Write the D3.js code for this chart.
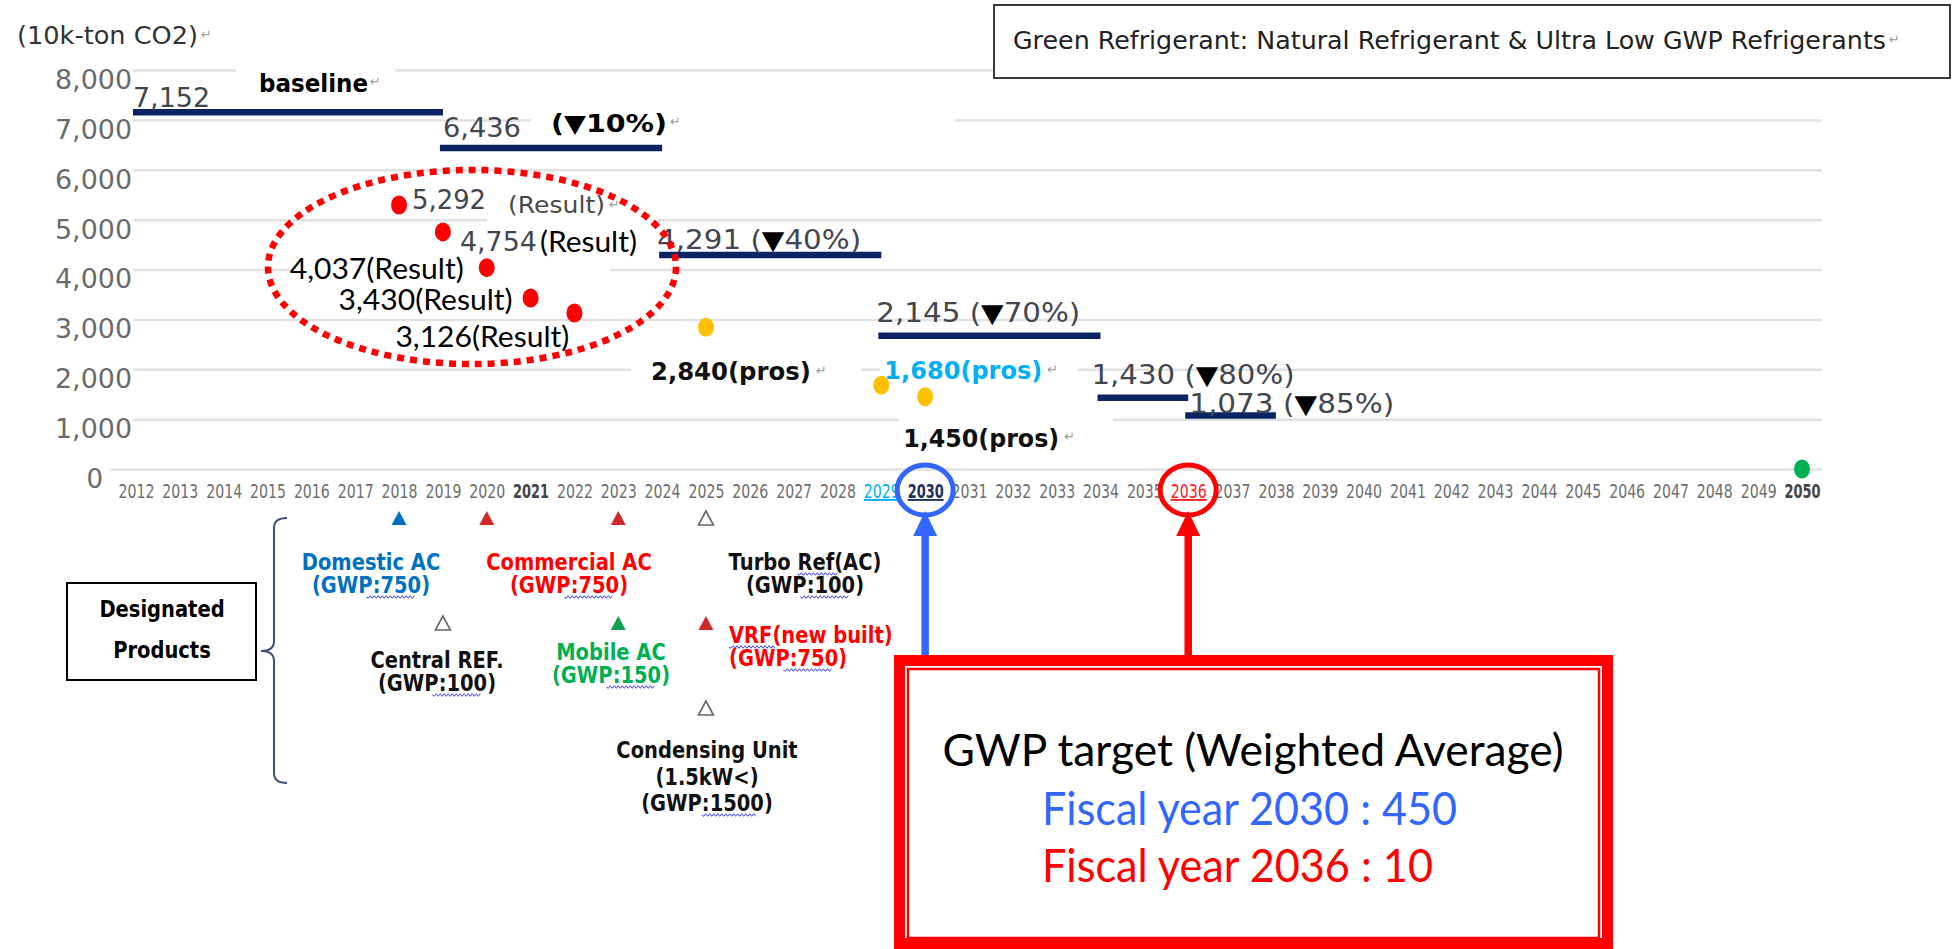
<!DOCTYPE html>
<html>
<head>
<meta charset="utf-8">
<script src="https://cdn.jsdelivr.net/npm/d3@7/dist/d3.min.js"></script>
<style>
body{margin:0;background:#fff;}
svg{display:block;}
.axis .domain{display:none;}
</style>
</head>
<body>
<svg id="chart" width="1954" height="949"></svg>
<script>
// ---- data ----
var years = [2012,2013,2014,2015,2016,2017,2018,2019,2020,2021,2022,2023,2024,2025,2026,2027,2028,2029,2030,
             2031,2032,2033,2034,2035,2036,2037,2038,2039,2040,2041,2042,2043,2044,2045,2046,2047,2048,2049,2050]
var yTicks = [0,1000,2000,3000,4000,5000,6000,7000,8000]

// reduction target steps (10k-ton CO2)
var targetStart = [2012,2019,2024,2029,2034,2036]
var targetEnd   = [2019,2024,2029,2034,2036,2038]
var targetLevel = [7152,6436,4291,2670,1430,1073]   // the 2,145 step sits near 2,670 in the source picture
var targetText  = ["7,152","6,436","4,291 (▼40%)","2,145 (▼70%)","1,430 (▼80%)","1,073 (▼85%)"]

var resultYears  = [2018,2019,2020,2021,2022]
var resultValues = [5292,4754,4037,3430,3126]
var prosYears  = [2025,2029,2030]
var prosValues = [2840,1680,1450]
var goalYears  = [2050]
var goalValues = [0]

var productNames = ["Domestic AC","Commercial AC","Turbo Ref(AC)","Central REF.","Mobile AC","VRF(new built)","Condensing Unit"]
var productGWP   = [750,750,100,100,150,750,1500]
var productNote  = ["","","","","","","(1.5kW<)"]
var markerYears   = [2018,2020,2023,2025,2019,2023,2025,2025]
var markerProduct = [0,1,1,2,3,4,5,6]

var gwpYears  = [2030,2036]
var gwpValues = [450,10]

// ---- layout ----
var svg = d3.select("#chart")
var fmt = d3.format(",")

var x = d3.scaleLinear().domain([2012,2050]).range([136,1802])
var y = d3.scaleLinear().domain([0,8000]).range([469,70])

var addText = function(parent, px, py, str, o)
{
    var t = parent.append("text")
        .attr("x", px).attr("y", py)
        .attr("dy", "0.36em")
        .attr("text-anchor", o.anchor || "start")
        .style("font-family", o.font || "'DejaVu Sans'")
        .style("font-size", o.size + "px")
        .style("font-weight", o.weight || "normal")
        .attr("fill", o.fill || "#000")
    if (o.tri) {
        // black triangle inside grey label
        var parts = str.split("▼")
        t.append("tspan").text(parts[0])
        if (parts.length > 1) {
            t.append("tspan").attr("fill", "#000").text("▼")
            t.append("tspan").text(parts[1])
        }
    } else {
        t.text(str)
    }
    if (o.len) t.attr("textLength", o.len).attr("lengthAdjust", "spacingAndGlyphs")
    return t
}
// keep the width a text has at its size but draw it taller
var squeeze = function(t, size)
{
    var w = t.node().getComputedTextLength()
    t.style("font-size", size + "px").attr("textLength", w).attr("lengthAdjust", "spacingAndGlyphs")
    return w
}
var retMark = function(px, py)
{
    svg.append("text").attr("x", px).attr("y", py).attr("dy", "0.36em")
        .style("font-family", "'DejaVu Sans'").style("font-size", "13px")
        .attr("fill", "#9a9a9a").text("↵")
}
// spell-check squiggle
var squiggle = function(x0, x1, py)
{
    var d = "M" + x0 + "," + py
    for (var xx = x0, k = 0; xx < x1; xx += 2, k++) {
        d += " L" + (xx + 2) + "," + (py + (k % 2 ? -1.3 : 1.3))
    }
    svg.append("path").attr("d", d).attr("fill", "none")
        .attr("stroke", "#3d3df5").attr("stroke-width", 1)
}

// ---- y axis + grid ----
var yAxis = d3.axisLeft(y).tickValues(yTicks).tickFormat(fmt)
    .tickSize(-(1822 - 133)).tickPadding(1)
var gy = svg.append("g").attr("class", "axis").attr("transform", "translate(133,0)").call(yAxis)
gy.selectAll(".tick line").attr("stroke", "#e1e1e1").attr("stroke-width", 2.5)
gy.selectAll(".tick line").filter(function(d){ return d === 0 }).attr("x1", -22)
gy.selectAll(".tick text")
    .attr("dy", "0.36em").attr("y", 9)
    .style("font-family", "'DejaVu Sans'").style("font-size", "26px")
    .attr("fill", "#6a6a6a")
    .attr("textLength", function(d){ return d === 0 ? null : 77 })
    .attr("lengthAdjust", "spacingAndGlyphs")
gy.selectAll(".tick text").filter(function(d){ return d === 0 }).attr("x", -30)

// ---- x axis ----
var xAxis = d3.axisBottom(x).tickValues(years).tickFormat(d3.format("d")).tickSize(0)
var gx = svg.append("g").attr("class", "axis").attr("transform", "translate(0,469)").call(xAxis)
gx.selectAll(".tick text")
    .attr("y", 22).attr("dy", "0.36em")
    .style("font-family", "'DejaVu Sans'").style("font-size", "19px")
    .attr("fill", "#6e6e6e")
gx.selectAll(".tick text").filter(function(d){ return d === 2021 || d === 2050 })
    .style("font-weight", "bold").attr("fill", "#444")
gx.selectAll(".tick text").filter(function(d){ return d === 2029 })
    .attr("fill", "#00b0f0").style("text-decoration", "underline")
gx.selectAll(".tick text").filter(function(d){ return d === 2030 })
    .style("font-weight", "bold").attr("fill", "#1f2f60").style("text-decoration", "underline")
gx.selectAll(".tick text").filter(function(d){ return d === 2036 })
    .attr("fill", "#ff2020").style("text-decoration", "underline")
// the year labels are narrow and tall
gx.selectAll(".tick text").each(function(){
    var w = this.getComputedTextLength()
    d3.select(this).attr("transform", "scale(" + (36 / w) + ",1)")
})

// white label boxes that hide parts of the grid
var masks = svg.append("g")
var maskBoxes = [[236,62,159,30],[531,108,424,22],[487,190,170,40],[290,255,320,26],
                 [631,357,230,28],[880,357,198,28],[899,409,214,22]]
masks.selectAll("rect").data(maskBoxes).enter().append("rect")
    .attr("x", function(b){ return b[0] }).attr("y", function(b){ return b[1] })
    .attr("width", function(b){ return b[2] }).attr("height", function(b){ return b[3] })
    .attr("fill", "#fff")

// ---- target steps ----
var steps = targetStart.map(function(s, i){
    return {from: s, to: targetEnd[i], level: targetLevel[i], label: targetText[i]}
})
svg.append("g").selectAll("line").data(steps).enter().append("line")
    .attr("x1", function(d){ return x(d.from) - 3 })
    .attr("x2", function(d){ return x(d.to) })
    .attr("y1", function(d){ return y(d.level) })
    .attr("y2", function(d){ return y(d.level) })
    .attr("stroke", "#0a2463").attr("stroke-width", 6.5)

// label offsets from the start of each step: dx, dy, width
var stepLabelPos = [[-3,-15,77],[0,-20,78],[-5,-15,204],[-5,-23,204],[-9,-23,203],[1,-12,205]]
steps.forEach(function(d, i){
    var p = stepLabelPos[i]
    addText(svg, x(d.from) + p[0], y(d.level) + p[1], d.label,
        {size: 26, fill: "#44464f", len: p[2], tri: true})
})
addText(svg, 259, 83, "baseline", {size: 24, weight: "bold", len: 109})
retMark(370, 81)
addText(svg, 551, 123, "(▼10%)", {size: 25, weight: "bold", len: 116})
retMark(670, 121)

// ---- results (red) ----
var results = resultYears.map(function(yr, i){ return {year: yr, value: resultValues[i]} })
svg.append("g").selectAll("ellipse").data(results).enter().append("ellipse")
    .attr("cx", function(d){ return x(d.year) })
    .attr("cy", function(d){ return y(d.value) })
    .attr("rx", 8).attr("ry", 9.5)
    .attr("fill", "#ff0000")

// first two: grey number + separate "(Result)"
addText(svg, x(2018) + 13, y(5292) - 5, fmt(5292), {size: 26, fill: "#44464f", len: 74})
addText(svg, x(2018) + 109, y(5292), "(Result)", {size: 23, fill: "#4a4a4a", len: 97})
retMark(609, y(5292) - 1)
addText(svg, x(2019) + 17, y(4754) + 10, fmt(4754), {size: 26, fill: "#44464f", len: 77})
addText(svg, x(2019) + 97, y(4754) + 10, "(Result)", {font: "Lato", size: 29, len: 97})
// remaining ones: Calibri-like labels left of the dot
var resultLabelPos = [[-23,1],[-18,2],[-5,23]]
results.slice(2).forEach(function(d, i){
    var p = resultLabelPos[i]
    addText(svg, x(d.year) + p[0], y(d.value) + p[1], fmt(d.value) + "(Result)",
        {font: "Lato", size: 29, anchor: "end", len: 174})
})

// ---- prospects (orange) ----
var pros = prosYears.map(function(yr, i){ return {year: yr, value: prosValues[i]} })
svg.append("g").selectAll("ellipse").data(pros).enter().append("ellipse")
    .attr("cx", function(d){ return x(d.year) })
    .attr("cy", function(d){ return y(d.value) })
    .attr("rx", 8).attr("ry", 9.5)
    .attr("fill", "#ffc000")
var prosLabelPos = [[-55,44,160,"#111"],[3,-15,158,"#00b0f0"],[-22,41,156,"#111"]]
pros.forEach(function(d, i){
    var p = prosLabelPos[i]
    addText(svg, x(d.year) + p[0], y(d.value) + p[1], fmt(d.value) + "(pros)",
        {size: 25, weight: "bold", fill: p[3], len: p[2]})
    retMark(x(d.year) + p[0] + p[2] + 5, y(d.value) + p[1] - 1)
})

// ---- 2050 goal (green) ----
svg.append("g").selectAll("ellipse").data(goalYears).enter().append("ellipse")
    .attr("cx", function(d){ return x(d) })
    .attr("cy", function(d, i){ return y(goalValues[i]) })
    .attr("rx", 8).attr("ry", 9.5)
    .attr("fill", "#00b050")

// dotted ring around the results
svg.append("ellipse")
    .attr("cx", 472).attr("cy", 267).attr("rx", 204).attr("ry", 97)
    .attr("fill", "none").attr("stroke", "#ff0000")
    .attr("stroke-width", 6.5).attr("stroke-dasharray", "7,6")

// unit + legend box
addText(svg, 17, 35, "(10k-ton CO2)", {size: 25, fill: "#333", len: 181})
retMark(201, 34)
svg.append("rect").attr("x", 994).attr("y", 5).attr("width", 956).attr("height", 73)
    .attr("fill", "#fff").attr("stroke", "#3a3a3a").attr("stroke-width", 2)
addText(svg, 1013, 40, "Green Refrigerant: Natural Refrigerant & Ultra Low GWP Refrigerants",
    {size: 24, fill: "#222", len: 873})
retMark(1889, 39)

// ---- designated products ----
svg.append("rect").attr("x", 67).attr("y", 583).attr("width", 189).attr("height", 97)
    .attr("fill", "#fff").attr("stroke", "#000").attr("stroke-width", 2)
squeeze(addText(svg, 162, 609, "Designated", {size: 19.5, weight: "bold", anchor: "middle"}), 23)
squeeze(addText(svg, 162, 650, "Products", {size: 19.5, weight: "bold", anchor: "middle"}), 23)
svg.append("path")
    .attr("d", "M287,518 Q274,518 274,528 L274,641 Q274,651 261,651 Q274,651 274,661 L274,773 Q274,783 287,783")
    .attr("fill", "none").attr("stroke", "#3f4f80").attr("stroke-width", 2)

var productColor = ["#0070c0","#ff0000","#111","#111","#00b050","#ff0000","#111"]
var markerColor  = ["#0070c0","#d02828","#d02828",null,null,"#10a050","#d02828",null]
var markerRowY   = [518,518,518,518,623,623,623,708]
var markers = markerYears.map(function(yr, i){ return {year: yr, product: markerProduct[i]} })
svg.append("g").selectAll("path").data(markers).enter().append("path")
    .attr("d", "M0,-7 L7.5,7 L-7.5,7 Z")
    .attr("transform", function(d, i){ return "translate(" + x(d.year) + "," + markerRowY[i] + ")" })
    .attr("fill", function(d, i){ return markerColor[i] || "#fff" })
    .attr("stroke", function(d, i){ return markerColor[i] ? "none" : "#666" })
    .attr("stroke-width", 1.6)

// label anchor per product: x, first line y, text-anchor
var productLabelPos = [[371,562,"middle"],[569,562,"middle"],[805,562,"middle"],
                       [437,660,"middle"],[611,652,"middle"],[729,635,"start"],[707,750,"middle"]]
productNames.forEach(function(name, i){
    var p = productLabelPos[i]
    var lines = [name]
    if (productNote[i]) lines.push(productNote[i])
    lines.push("(GWP:" + productGWP[i] + ")")
    lines.forEach(function(s, k){
        var ly = p[1] + k * (lines.length > 2 ? 26.5 : 23)
        var t = addText(svg, p[0], ly, s,
            {size: 19.5, weight: "bold", fill: productColor[i], anchor: p[2]})
        var w = squeeze(t, 22.5)
        var left = p[2] === "middle" ? p[0] - w / 2 : p[0]
        if (s.indexOf("GWP:") >= 0) squiggle(left + w * 0.46, left + w * 0.86, ly + 12)
        if (s === "Turbo Ref(AC)") squiggle(left + w * 0.45, left + w * 0.7, ly + 12)
        if (s === "VRF(new built)") squiggle(left, left + w * 0.27, ly + 12)
    })
})

// ---- GWP target callout ----
var gwpColor = ["#3366ff","#ff0000"]
gwpYears.forEach(function(yr, i){
    var cx = x(yr)
    svg.append("ellipse").attr("cx", cx).attr("cy", 490).attr("rx", 28).attr("ry", 25)
        .attr("fill", "none").attr("stroke", gwpColor[i]).attr("stroke-width", 5)
    svg.append("line").attr("x1", cx).attr("x2", cx).attr("y1", 532).attr("y2", 660)
        .attr("stroke", gwpColor[i]).attr("stroke-width", 7.5)
    svg.append("path")
        .attr("d", "M" + cx + ",511 L" + (cx + 12) + ",536 L" + (cx - 12) + ",536 Z")
        .attr("fill", gwpColor[i])
})
svg.append("rect").attr("x", 899.5).attr("y", 660.5).attr("width", 708).attr("height", 283)
    .attr("fill", "#fff").attr("stroke", "#ff0000").attr("stroke-width", 11)
svg.append("rect").attr("x", 908).attr("y", 669).attr("width", 691).attr("height", 269)
    .attr("fill", "none").attr("stroke", "#ff0000").attr("stroke-width", 2.5)
addText(svg, 1253, 750, "GWP target (Weighted Average)", {font: "Lato", size: 45, len: 621, anchor: "middle"})
gwpYears.forEach(function(yr, i){
    addText(svg, 1042, 808 + i * 57, "Fiscal year " + yr + " : " + gwpValues[i],
        {font: "Lato", size: 47, fill: gwpColor[i], len: i === 0 ? 415 : 391})
})
</script>
</body>
</html>
